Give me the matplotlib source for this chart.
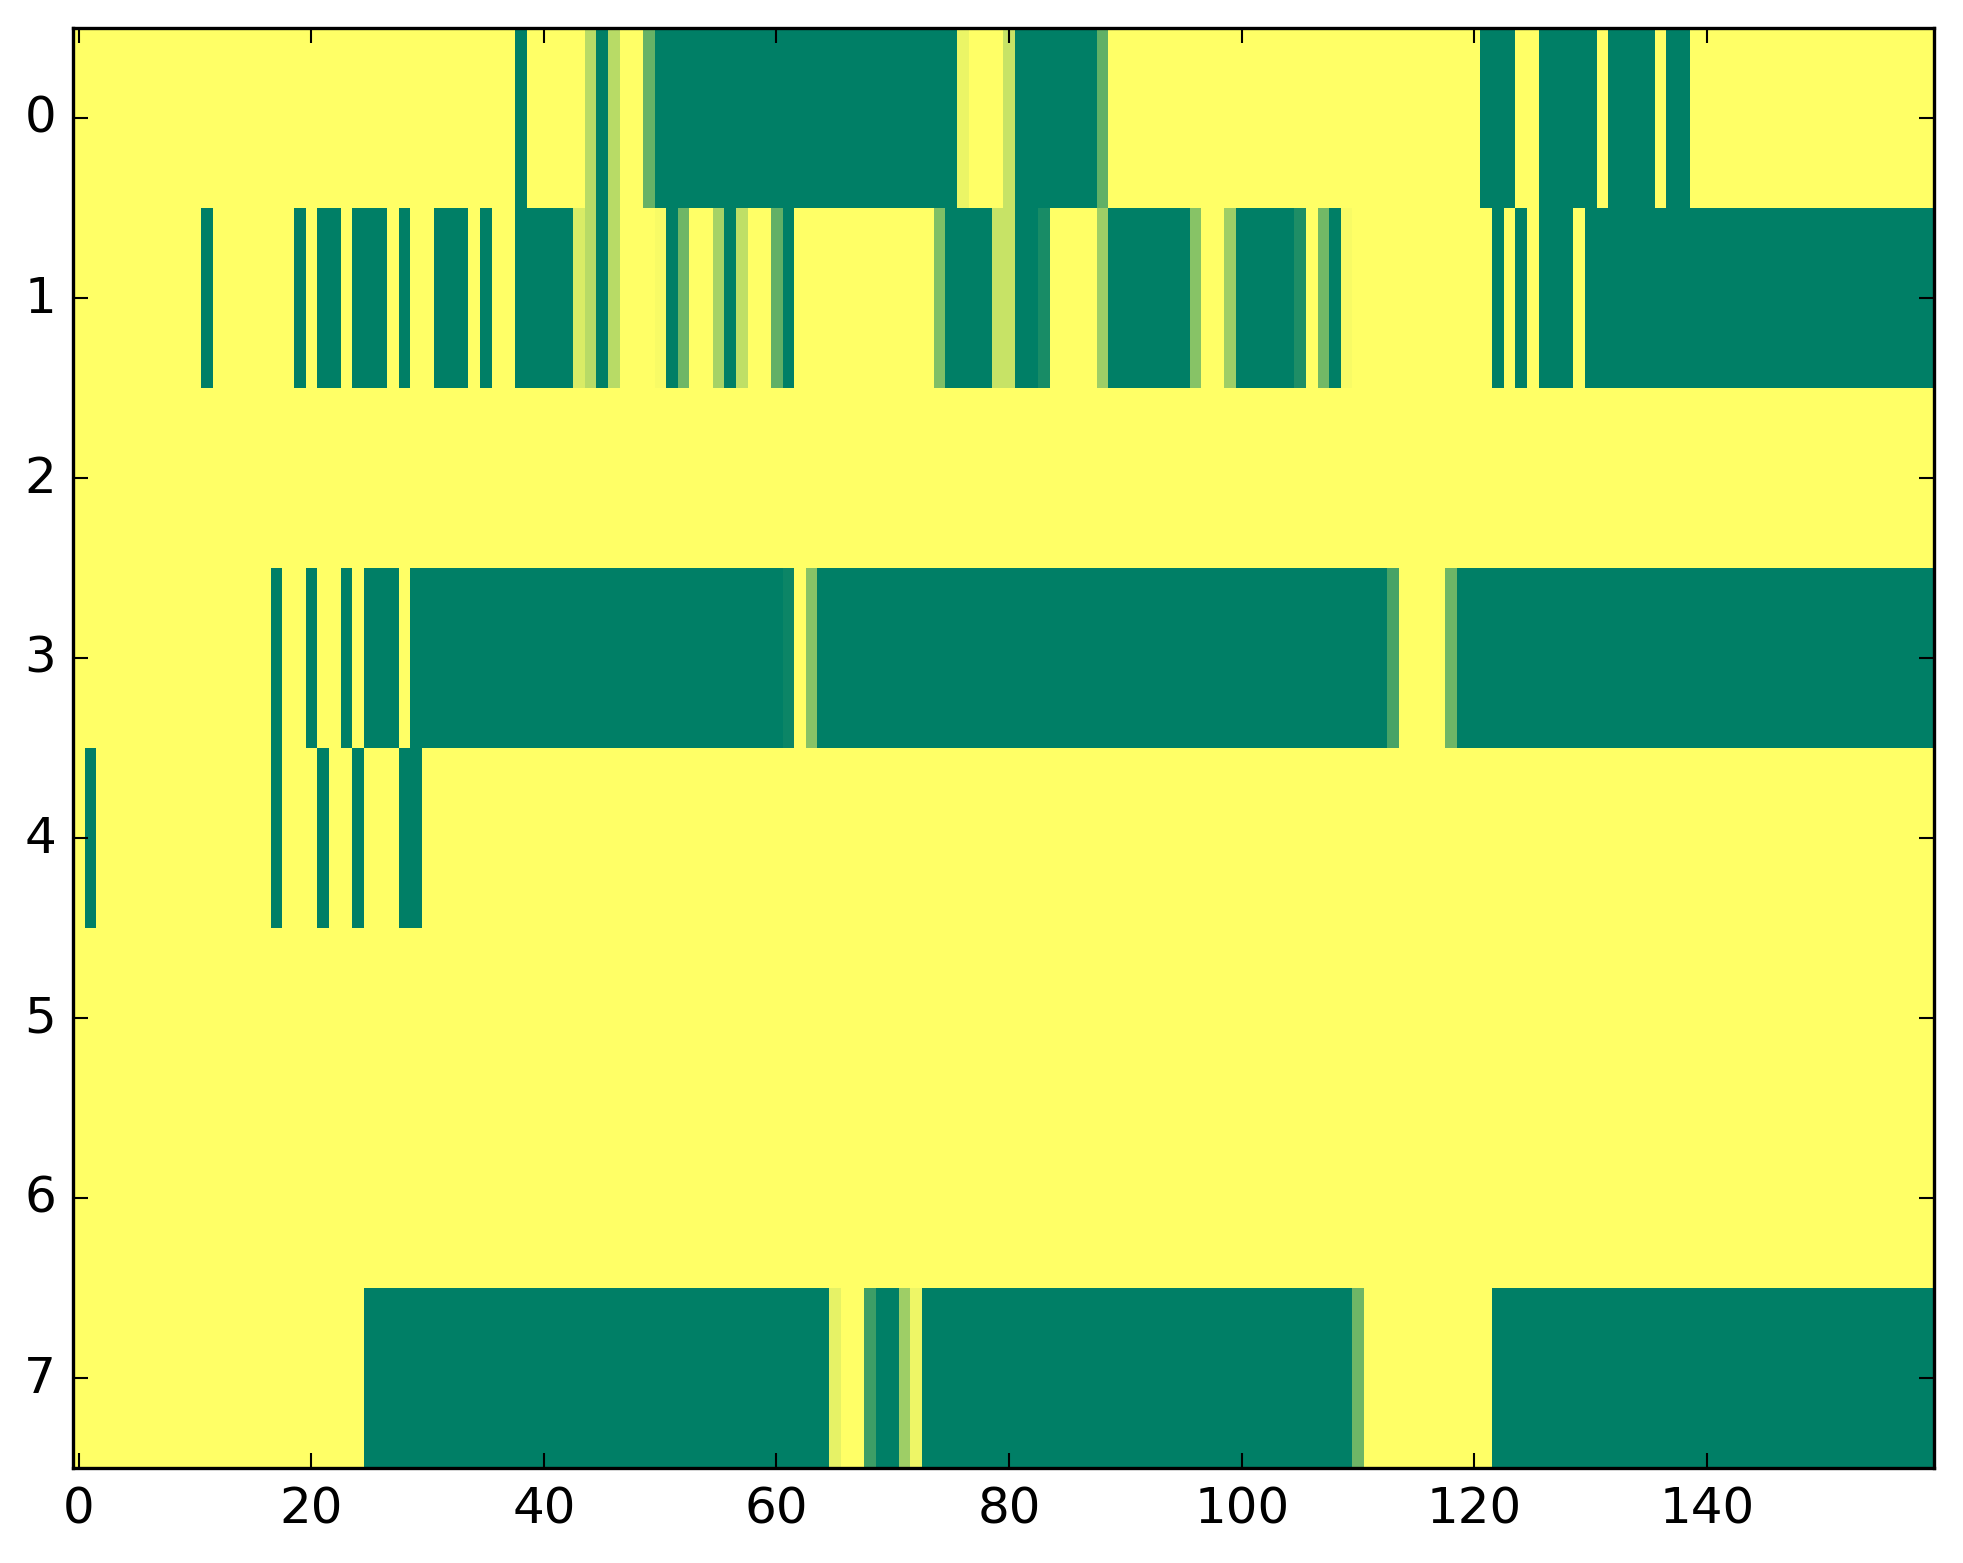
import numpy as np
import matplotlib
matplotlib.use('Agg')
import matplotlib.pyplot as plt

# cell values per row (0 = yellow, 1 = green), read column by column
row0 = ([0] * 38 + [1] + [0] * 5 + [0.28, 1, 0.28] + [0] * 2 + [0.6] + [1] * 26 +
        [0.08] + [0] * 3 + [0.22] + [1] * 7 + [0.62] + [0] * 32 + [1] * 3 + [0] * 2 +
        [1] * 5 + [0] + [1] * 4 + [0] + [1] * 2 + [0] * 21)
row1 = ([0] * 11 + [1] + [0] * 7 + [1] + [0] + [1] * 2 + [0] + [1] * 3 + [0] + [1] +
        [0] * 2 + [1] * 3 + [0] + [1] + [0] * 2 + [1] * 5 + [0.15, 0.28, 1, 0.28] +
        [0] * 3 + [0.03, 1, 0.57] + [0] * 2 + [0.35, 1, 0.25] + [0] * 2 + [0.62, 1] +
        [0] * 12 + [0.5] + [1] * 4 + [0.22] * 2 + [1] * 2 + [0.9] + [0] * 4 + [0.38] +
        [1] * 7 + [0.47] + [0] * 2 + [0.38] + [1] * 5 + [0.88, 0, 0.55, 1, 0.03] +
        [0] * 12 + [1, 0, 1, 0] + [1] * 3 + [0] + [1] * 30)
row2 = [0] * 160
row3 = ([0] * 17 + [1] + [0] * 2 + [1] + [0] * 2 + [1] + [0] + [1] * 3 + [0] +
        [1] * 32 + [0.95, 0, 0.47] + [1] * 49 + [0.72] + [0] * 4 + [0.57] + [1] * 41)
row4 = ([0, 1] + [0] * 15 + [1] + [0] * 3 + [1] + [0] * 2 + [1] + [0] * 3 + [1] * 2 +
        [0] * 130)
row5 = [0] * 160
row6 = [0] * 160
row7 = ([0] * 25 + [1] * 40 + [0.1] + [0] * 2 + [0.76] + [1] * 2 + [0.38, 0.07] +
        [1] * 37 + [0.57] + [0] * 11 + [1] * 38)

rows = [row0, row1, row2, row3, row4, row5, row6, row7]
xticks = [0, 20, 40, 60, 80, 100, 120, 140]
yticks = list(range(len(rows)))

plt.style.use('classic')
plt.rcParams['font.family'] = ['DejaVu Sans']

data = np.array(rows, dtype=float)

fig = plt.figure(figsize=(1963 / 300, 1564 / 300), dpi=300)
fig.patch.set_facecolor('white')
ax = fig.add_axes([0.0371, 0.0609, 0.948, 0.9207])
ax.imshow(data, cmap='summer_r', vmin=0, vmax=1, aspect='auto',
          interpolation='nearest')
ax.set_xticks(xticks)
ax.set_yticks(yticks)
ax.set_xlim(-0.5, data.shape[1] - 0.5)
ax.set_ylim(data.shape[0] - 0.5, -0.5)
ax.tick_params(labelsize=12, length=3.6, width=0.5)
for s in ax.spines.values():
    s.set_linewidth(0.8)

fig.savefig('out.png', dpi=300, facecolor='white')
plt.close(fig)
